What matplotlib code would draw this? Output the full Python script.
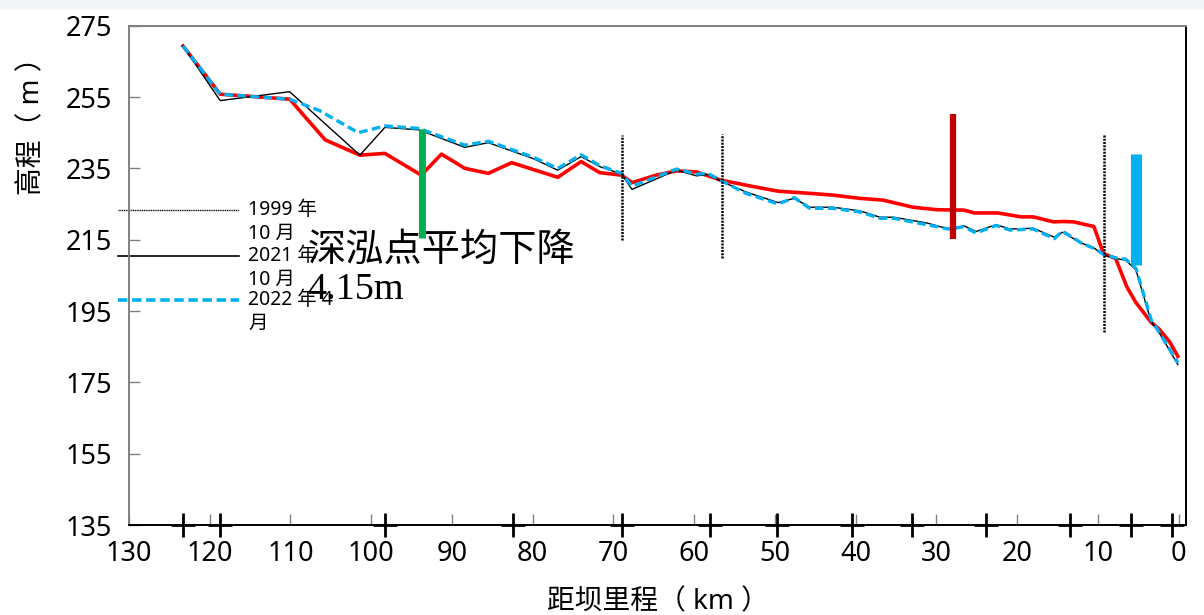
import matplotlib
matplotlib.use("Agg")
import matplotlib.pyplot as plt
from matplotlib.patches import Rectangle

plt.rcParams['font.family'] = ['Noto Sans', 'Noto Sans CJK SC', 'DejaVu Sans']

### données (distance au barrage [km], cote [m])
# 1999 (trait rouge épais)
x_1999 = [123.3, 118.7, 110.1, 105.7, 101.4, 98.3, 93.8, 91.3, 88.4, 85.5, 82.6, 76.9, 74.0,
          71.7, 69.0, 67.7, 64.7, 62.2, 59.7, 56.7, 52.7, 49.6, 45.7, 42.8, 39.5, 36.6, 32.9,
          29.9, 26.6, 25.3, 22.4, 19.5, 18.0, 15.5, 14.3, 13.0, 10.5, 9.3, 7.8, 6.4, 5.3, 3.4,
          2.4, 1.1, 0.1]
z_1999 = [269.3, 255.8, 254.4, 243.0, 238.7, 239.2, 233.1, 239.0, 235.0, 233.6, 236.6, 232.5, 236.9,
          233.8, 233.1, 231.0, 233.1, 234.3, 234.0, 231.7, 229.9, 228.6, 228.0, 227.5, 226.6, 226.1, 224.1,
          223.4, 223.3, 222.5, 222.5, 221.4, 221.4, 220.0, 220.1, 220.0, 218.7, 211.1, 209.7, 201.7, 197.4, 191.8,
          189.9, 186.3, 182.3]

# 2021-10 (trait noir fin)
x_2021 = [123.3, 118.7, 110.1, 101.4, 98.3, 94.1, 88.4, 85.5, 80.0, 76.9, 74.0, 71.7, 69.0, 67.7,
          62.2, 59.7, 58.3, 56.7, 53.6, 49.6, 47.6, 45.7, 42.8, 39.5, 37.0, 35.3, 31.2, 28.5, 26.6,
          25.1, 22.6, 20.9, 18.0, 15.4, 14.4, 12.0, 10.5, 9.3, 7.8, 6.6, 5.3, 3.4, 2.4, 0.1]
z_2021 = [269.3, 254.0, 256.5, 238.7, 246.5, 245.8, 240.9, 242.2, 237.8, 234.5, 238.3, 235.5, 233.4, 229.1,
          234.5, 232.9, 233.3, 231.4, 228.4, 225.4, 226.6, 224.1, 224.1, 223.1, 221.3, 221.3, 219.7, 218.0, 218.9,
          217.3, 219.2, 218.0, 218.2, 215.7, 217.1, 214.0, 212.7, 210.7, 209.7, 209.3, 206.6, 192.0, 188.9, 180.0]

# 2022-04 (tirets bleus)
x_2022 = [123.3, 118.7, 110.1, 106.4, 101.6, 98.3, 94.1, 88.4, 85.5, 80.0, 76.9, 74.0, 71.7, 69.0,
          67.7, 62.2, 59.7, 58.3, 56.7, 53.6, 49.6, 47.6, 45.7, 42.8, 39.5, 37.0, 35.3, 31.2, 28.5,
          26.6, 25.1, 22.6, 20.9, 18.0, 15.4, 14.4, 12.0, 10.5, 9.3, 7.8, 6.6, 5.3, 3.4, 2.4, 0.1]
z_2022 = [269.3, 255.8, 254.4, 251.2, 245.0, 246.9, 246.2, 241.5, 242.6, 238.2, 235.0, 238.8, 235.8, 233.6,
          230.0, 234.8, 233.4, 233.6, 231.6, 228.0, 225.0, 226.8, 223.8, 223.8, 222.8, 221.0, 221.0, 219.2, 218.0,
          218.6, 216.9, 219.0, 217.7, 218.0, 215.3, 217.4, 214.0, 212.6, 210.9, 209.9, 209.6, 207.0, 192.5, 189.0, 180.5]

# sections (croix sur l'axe)
x_sections = [123.3, 118.7, 98.3, 82.5, 69.0, 58.1, 49.8, 40.5, 33.0, 23.9, 13.4, 5.9, 0.8]

# limites de tronçons (pointillés verticaux)
x_limites = [68.9, 56.6, 9.3]
z_lim_haut = [244.4, 244.6, 244.7]
z_lim_bas = [214.9, 209.8, 189.1]

# barres colorées
x_barres = [93.65, 28.0, 5.26]
z_barres_haut = [245.9, 250.3, 239.1]
z_barres_bas = [215.4, 215.2, 207.8]
c_barres = ["#00b050", "#c00000", "#00b0f0"]
w_barres = [5, 4.5, 8]

legendes = ["1999 年\n10 月", "2021 年\n10 月", "2022 年 4\n月"]
x_ticks = list(range(130, -1, -10))
y_ticks = list(range(135, 276, 20))

### figure
fig = plt.figure(figsize=(12.04, 6.15), dpi=100)
fig.patches.append(Rectangle((0, 0.987), 1, 0.013, transform=fig.transFigure,
                             color="#f2f4f7", zorder=0))
ax = fig.add_axes([0.1071, 0.1463, 0.8779, 0.8119])

ax.plot(x_1999, z_1999, color="#ff0000", lw=2.6, zorder=2)
ax.plot(x_2021, z_2021, color="black", lw=1.0, zorder=3)
ax.plot(x_2022, z_2022, color="#00b0f0", lw=2.4, ls=(0, (2.6, 1.3)), zorder=4)

for i in range(len(x_limites)):
    ax.plot([x_limites[i], x_limites[i]], [z_lim_bas[i], z_lim_haut[i]],
            color="black", lw=1.8, ls=(0, (0.8, 0.5)), zorder=5)
for i in range(len(x_barres)):
    ax.plot([x_barres[i], x_barres[i]], [z_barres_bas[i], z_barres_haut[i]],
            color=c_barres[i], lw=w_barres[i], solid_capstyle="butt", zorder=6)

ax.plot(x_sections, [135] * len(x_sections), ls="none", marker="+", ms=17, mew=2.0,
        color="black", clip_on=False, zorder=7)

ax.set_xlim(130, -0.9)
ax.set_ylim(135, 275)
ax.set_xticks(x_ticks)
ax.set_yticks(y_ticks)
ax.tick_params(axis="both", direction="in", length=8, width=1, color="#808080", labelsize=19.5)
ax.tick_params(axis="y", pad=12)
ax.tick_params(axis="x", pad=11)
for s in ["top", "left"]:
    ax.spines[s].set_color("#808080")
for s in ["bottom", "right"]:
    ax.spines[s].set_color("black")
for s in ax.spines.values():
    s.set_linewidth(1.4)

ax.set_xlabel("距坝里程（ km ）", fontsize=20)
ax.set_ylabel("高程（ m ）", fontsize=20)
ax.xaxis.set_label_coords(0.5, -0.126)
ax.yaxis.set_label_coords(-0.078, 0.812)

### légende manuelle
styles = [dict(color="black", lw=1.0, ls=(0, (0.8, 0.5))),
          dict(color="black", lw=1.2, ls="-"),
          dict(color="#00b0f0", lw=2.6, ls=(0, (2.6, 1.3)))]
y_leg = [0.631, 0.539, 0.451]
for i in range(3):
    ax.plot([-0.0104, 0.104], [y_leg[i], y_leg[i]], transform=ax.transAxes,
            clip_on=False, **styles[i])
    ax.text(0.1126, y_leg[i] + 0.02, legendes[i], transform=ax.transAxes,
            fontsize=14, va="top", ha="left", linespacing=1.25)

ax.text(0.169, 0.585, "深泓点平均下降\n4.15m", transform=ax.transAxes,
        family=["Liberation Serif", "Noto Sans CJK SC"], fontsize=27.5,
        va="top", ha="left", linespacing=1.15)

fig.savefig("out.png", dpi=100)
